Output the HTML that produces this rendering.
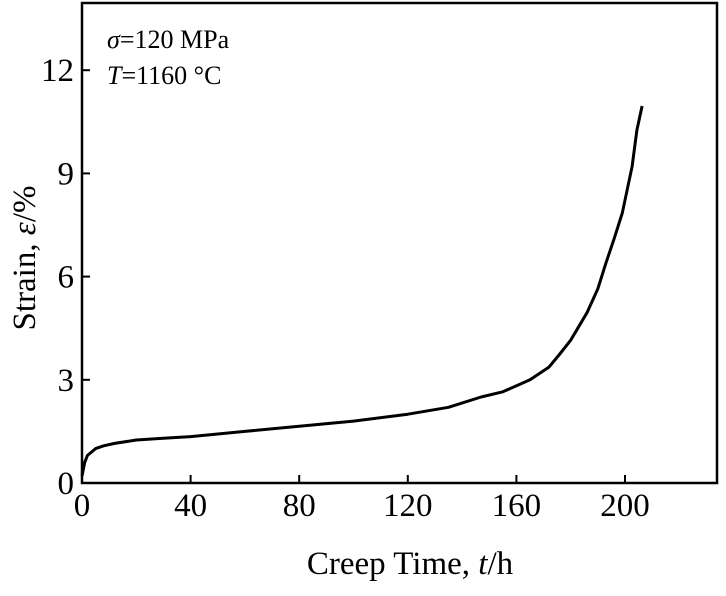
<!DOCTYPE html>
<html><head><meta charset="utf-8"><style>
body{margin:0;background:#fff}
svg text{font-family:"Liberation Serif",serif;fill:#000}
</style></head><body>
<svg width="726" height="591">
<g id="ticks"></g>
<rect x="82" y="3" width="635" height="480" fill="none" stroke="#000" stroke-width="2.5"/>
<path id="curve" fill="none" stroke="#000" stroke-width="3" stroke-linejoin="round"/>
<text x="107" y="48" font-size="26"><tspan font-style="italic">σ</tspan>=120 MPa</text>
<text x="107" y="84" font-size="26"><tspan font-style="italic">T</tspan>=1160 °C</text>
<text x="410" y="574" font-size="33" text-anchor="middle">Creep Time, <tspan font-style="italic">t</tspan>/h</text>
<text transform="translate(35,258) rotate(-90)" font-size="33" text-anchor="middle">Strain, <tspan font-style="italic">ε</tspan>/%</text>
</svg>
<script>
const times=[0,1,2,5,8,12,20,30,40,60,80,100,120,135,147,155,159,165,172,176,180,186,190,193,196,199,202.6,204.4,206.3];
const strains=[0.2,0.6,0.8,1.0,1.08,1.15,1.25,1.3,1.35,1.5,1.65,1.8,2.0,2.2,2.5,2.65,2.79,3.0,3.37,3.75,4.15,4.95,5.65,6.4,7.1,7.85,9.2,10.26,10.96];
const xTicks=[0,40,80,120,160,200];
const yTicks=[0,3,6,9,12];
const X=t=>82+t*2.715;
const Y=v=>483-v*34.4;
const ns="http://www.w3.org/2000/svg";
const g=document.getElementById('ticks');
xTicks.forEach(t=>{
 const l=document.createElementNS(ns,'line');
 l.setAttribute('x1',X(t));l.setAttribute('x2',X(t));l.setAttribute('y1',483);l.setAttribute('y2',475);
 l.setAttribute('stroke','#000');l.setAttribute('stroke-width','2');
 
 
 g.appendChild(l);
 const tx=document.createElementNS(ns,'text');
 tx.setAttribute('x',X(t));tx.setAttribute('y',516);tx.setAttribute('font-size','33');tx.setAttribute('text-anchor','middle');
 tx.textContent=t;
 
 
 g.appendChild(tx);
});
yTicks.forEach(v=>{
 const l=document.createElementNS(ns,'line');
 l.setAttribute('x1',82);l.setAttribute('x2',90);l.setAttribute('y1',Y(v));l.setAttribute('y2',Y(v));
 l.setAttribute('stroke','#000');l.setAttribute('stroke-width','2');
 
 
 g.appendChild(l);
 const tx=document.createElementNS(ns,'text');
 tx.setAttribute('x',74);tx.setAttribute('y',Y(v)+11);tx.setAttribute('font-size','33');tx.setAttribute('text-anchor','end');
 tx.textContent=v;
 
 
 g.appendChild(tx);
});
document.getElementById('curve').setAttribute('d',times.map((t,i)=>(i?'L':'M')+X(t).toFixed(1)+' '+Y(strains[i]).toFixed(1)).join(' '));
</script>
</body></html>
